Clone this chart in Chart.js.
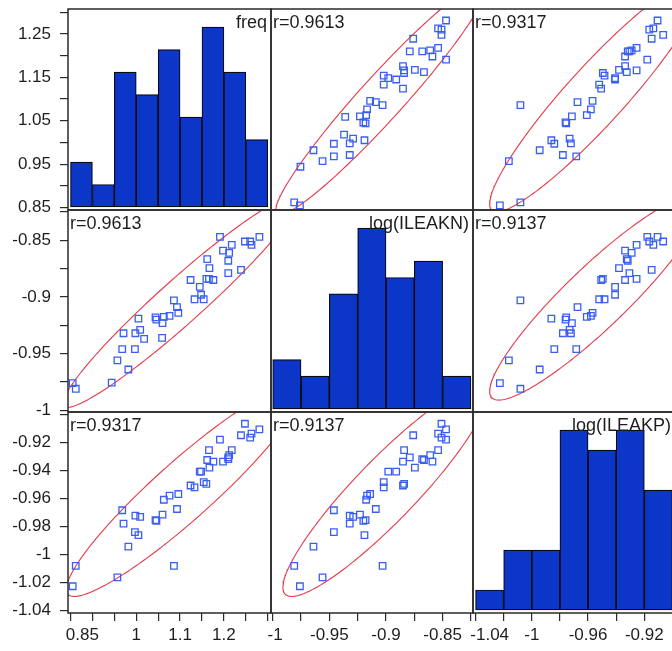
<!DOCTYPE html>
<html>
<head>
<meta charset="utf-8">
<script src="https://cdn.jsdelivr.net/npm/chart.js@4.4.1/dist/chart.umd.min.js"></script>
<style>
  html, body { margin: 0; padding: 0; background: #fff; overflow: hidden; }
  #matrix { position: relative; width: 672px; height: 651px; overflow: hidden; }
  #matrix canvas { position: absolute; }
</style>
</head>
<body>
<div id="matrix"></div>
<script>
// ---- measurements (one row per device; null = not measured) ----
const freq = [
  0.855, 0.862, 0.944, 0.982, 0.957, 0.968, 0.997, 0.971, 0.998, 1.009,
  1.018, 1.005, 1.059, 1.044, 1.046, 1.060, 1.063, 1.076, 1.086, 1.093,
  1.096, 1.133, 1.124, 1.145, 1.148, 1.154, 1.160, 1.166, 1.176, 1.162,
  1.167, 1.191, 1.198, 1.212, 1.218, 1.210, 1.210, 1.239, 1.248, 1.260,
  1.263, 1.281
];
const logIleakN = [
  -0.976, -0.981, -0.9755, -0.964, -0.956, -0.946, -0.946, -0.932, -0.932, -0.929,
  -0.937, -0.919, -0.936, -0.918, -0.920, -0.923, -0.9175, -0.9167, -0.903, -0.909,
  -0.914, -0.902, -0.885, -0.891, -0.898, -0.902, -0.884, -0.884, -0.885, -0.8665,
  -0.8745, -0.847, -0.859, -0.861, -0.854, -0.868, -0.879, -0.876, -0.851, -0.851,
  -0.854, -0.847
];
const logIleakP = [
  -1.0227, -1.0081, null, -0.9944, -1.0163, -0.9684, -0.984, -0.9779, -0.9722, -0.9731,
  null, -0.9861, null, -0.9755, -0.976, -0.9715, -0.9609, -0.958, -1.0081, -0.9675,
  -0.9568, -0.9521, -0.9507, -0.9408, -0.9408, -0.9483, -0.9495, -0.9255, -0.9337, -0.9325,
  -0.938, -0.9179, -0.9337, -0.929, -0.9255, -0.9318, -0.9306, -0.9148, -0.9066, -0.9165,
  -0.9136, -0.9106
];

// ---- pairwise correlations ----
const rFreqN = 0.9613;
const rFreqP = 0.9317;
const rNP = 0.9137;

// ---- histogram bins (left edges, bin width) and counts ----
const freqBinStarts = [0.85, 0.90, 0.95, 1.00, 1.05, 1.10, 1.15, 1.20, 1.25];
const freqBinWidth = 0.05;
const freqCounts = [2, 1, 6, 5, 7, 4, 8, 6, 3];
const ileakNBinStarts = [-1.000, -0.975, -0.950, -0.925, -0.900, -0.875, -0.850];
const ileakNBinWidth = 0.025;
const ileakNCounts = [3, 2, 7, 11, 8, 9, 2];
const ileakPBinStarts = [-1.04, -1.02, -1.00, -0.98, -0.96, -0.94, -0.92];
const ileakPBinWidth = 0.02;
const ileakPCounts = [1, 3, 3, 9, 8, 9, 6];

// ---- axis limits, ticks and tick labels ----
const freqRange = [0.8443, 1.3075];
const ileakNRange = [-1.0015, -0.8232];
const ileakPRange = [-1.0418, -0.8982];

const freqTicks = [0.85, 0.9, 0.95, 1.0, 1.05, 1.1, 1.15, 1.2, 1.25, 1.3];
const freqXLabels = ['0.85', '', '', '1', '', '1.1', '', '1.2', '', ''];
const freqYLabels = ['0.85', '', '0.95', '', '1.05', '', '1.15', '', '1.25', ''];
const ileakNTicks = [-1, -0.975, -0.95, -0.925, -0.9, -0.875, -0.85, -0.825];
const ileakNXLabels = ['-1', '', '-0.95', '', '-0.9', '', '-0.85', ''];
const ileakNYLabels = ['-1', '', '-0.95', '', '-0.9', '', '-0.85', ''];
const ileakPTicks = [-1.04, -1.02, -1, -0.98, -0.96, -0.94, -0.92, -0.9];
const ileakPXLabels = ['-1.04', '', '-1', '', '-0.96', '', '-0.92', ''];
const ileakPYLabels = ['-1.04', '-1.02', '-1', '-0.98', '-0.96', '-0.94', '-0.92', ''];

const varNames = ['freq', 'log(ILEAKN)', 'log(ILEAKP)'];

// ---- look ----
const FONT = "'Liberation Sans', Arial, sans-serif";
const TICK_SIZE = 17;
const LABEL_SIZE = 18;
const INK = '#1e1e1e';
const FRAME = '#2a2a2a';
const BAR_FILL = '#0b36c8';
const POINT_BLUE = '#3a5ff0';
const ELLIPSE_RED = '#e43b4b';

// panel grid (page pixels)
const colEdges = [68, 271, 473, 675];
const rowEdges = [9, 210, 412, 613];
const PAGE_H = 651;
const MARGIN = 40;

// ---- assemble per-variable tables from the arrays above ----
const variables = [
  { values: freq, range: freqRange, ticks: freqTicks, xLabels: freqXLabels, yLabels: freqYLabels,
    binStarts: freqBinStarts, binWidth: freqBinWidth, counts: freqCounts },
  { values: logIleakN, range: ileakNRange, ticks: ileakNTicks, xLabels: ileakNXLabels, yLabels: ileakNYLabels,
    binStarts: ileakNBinStarts, binWidth: ileakNBinWidth, counts: ileakNCounts },
  { values: logIleakP, range: ileakPRange, ticks: ileakPTicks, xLabels: ileakPXLabels, yLabels: ileakPYLabels,
    binStarts: ileakPBinStarts, binWidth: ileakPBinWidth, counts: ileakPCounts }
];
const corr = [
  [1, rFreqN, rFreqP],
  [rFreqN, 1, rNP],
  [rFreqP, rNP, 1]
];

// text measuring for the first x label, which sits flush with the panel's left edge
const measureCtx = document.createElement('canvas').getContext('2d');
measureCtx.font = `${TICK_SIZE}px ${FONT}`;
function flushFirstLabel(text, value, range, panelWidth) {
  const w = measureCtx.measureText(text).width;
  const sw = measureCtx.measureText(' ').width;
  const offset = (value - range[0]) / (range[1] - range[0]) * panelWidth;
  const shift = w / 2 - offset - 3;
  const n = Math.max(0, Math.round(2 * shift / sw));
  return ' '.repeat(n) + text;
}

// pairs with both values present
function pairsOf(xs, ys) {
  const out = [];
  xs.forEach((x, k) => { if (x != null && ys[k] != null) out.push({ x, y: ys[k] }); });
  return out;
}

// 95% bivariate normal density ellipse from the sample means, SDs and r
function densityEllipse(points, r) {
  const n = points.length;
  const mx = points.reduce((s, p) => s + p.x, 0) / n;
  const my = points.reduce((s, p) => s + p.y, 0) / n;
  const sx = Math.sqrt(points.reduce((s, p) => s + (p.x - mx) ** 2, 0) / (n - 1));
  const sy = Math.sqrt(points.reduce((s, p) => s + (p.y - my) ** 2, 0) / (n - 1));
  const c = Math.sqrt(-2 * Math.log(1 - 0.95));
  const q = Math.sqrt(1 - r * r);
  const out = [];
  for (let k = 0; k <= 240; k++) {
    const t = 2 * Math.PI * k / 240;
    out.push({ x: mx + c * sx * Math.cos(t), y: my + c * sy * (r * Math.cos(t) + q * Math.sin(t)) });
  }
  return out;
}

// panel caption: variable name (top right) or correlation (top left)
const cornerText = {
  id: 'cornerText',
  afterDatasetsDraw(chart, args, opts) {
    if (!opts.text) return;
    const { ctx, chartArea: a } = chart;
    ctx.save();
    ctx.font = `${LABEL_SIZE}px ${FONT}`;
    ctx.fillStyle = INK;
    ctx.textBaseline = 'alphabetic';
    if (opts.align === 'right') {
      ctx.textAlign = 'right';
      ctx.fillText(opts.text, a.right - 4, a.top + 19);
    } else {
      ctx.textAlign = 'left';
      ctx.fillText(opts.text, a.left + 2, a.top + 19);
    }
    ctx.restore();
  }
};

// panel frame
const panelFrame = {
  id: 'panelFrame',
  afterDraw(chart) {
    const { ctx, chartArea: a } = chart;
    ctx.save();
    ctx.strokeStyle = FRAME;
    ctx.lineWidth = 1.5;
    ctx.strokeRect(a.left, a.top, a.right - a.left, a.bottom - a.top);
    ctx.restore();
  }
};

function axisConfig(v, isX, show, panelWidth) {
  const labels = isX ? v.xLabels : v.yLabels;
  return {
    type: 'linear',
    position: isX ? 'bottom' : 'left',
    display: show,
    offset: false,
    min: v.range[0],
    max: v.range[1],
    afterBuildTicks: (scale) => { scale.ticks = v.ticks.map(t => ({ value: t })); },
    afterFit: (scale) => {
      if (!show) return;
      if (isX) scale.height = PAGE_H - rowEdges[3];
      else scale.width = colEdges[0];
    },
    grid: { display: true, offset: false, drawOnChartArea: false, drawTicks: true, tickLength: 8, color: FRAME, lineWidth: 1.2 },
    border: { display: false },
    ticks: {
      autoSkip: false,
      maxRotation: 0,
      minRotation: 0,
      padding: isX ? 4 : 9,
      color: INK,
      font: { family: FONT, size: TICK_SIZE },
      callback: (value, index) => {
        const s = labels[index] || '';
        if (isX && index === 0 && s) return flushFirstLabel(s, v.ticks[0], v.range, panelWidth);
        return s;
      }
    }
  };
}

const host = document.getElementById('matrix');

for (let i = 0; i < 3; i++) {
  for (let j = 0; j < 3; j++) {
    const xv = variables[j];
    const yv = variables[i];
    const panelW = colEdges[j + 1] - colEdges[j];

    const left = j === 0 ? 0 : colEdges[j] - MARGIN;
    const right = colEdges[j + 1] + MARGIN;
    const top = rowEdges[i] - MARGIN;
    const bottom = i === 2 ? PAGE_H : rowEdges[i + 1] + MARGIN;

    const canvas = document.createElement('canvas');
    canvas.width = right - left;
    canvas.height = bottom - top;
    canvas.style.left = left + 'px';
    canvas.style.top = top + 'px';
    canvas.style.width = (right - left) + 'px';
    canvas.style.height = (bottom - top) + 'px';
    host.appendChild(canvas);

    const scales = {
      x: axisConfig(xv, true, i === 2, panelW),
      y: axisConfig(yv, false, j === 0, panelW)
    };
    let datasets;
    let caption;

    if (i === j) {
      // histogram on a hidden count axis
      const maxCount = Math.max(...xv.counts);
      const span = maxCount / 0.895;
      scales.yCount = { type: 'linear', display: false, offset: false, min: -0.015 * span, max: 0.985 * span };
      datasets = [{
        type: 'bar',
        data: xv.binStarts.map((b, k) => ({ x: b + xv.binWidth / 2, y: xv.counts[k] })),
        xAxisID: 'x',
        yAxisID: 'yCount',
        backgroundColor: BAR_FILL,
        borderColor: '#0a0a14',
        borderWidth: 1.2,
        borderSkipped: false,
        barPercentage: 1,
        categoryPercentage: 1
      }];
      caption = { text: varNames[i], align: 'right' };
    } else {
      const pts = pairsOf(xv.values, yv.values);
      datasets = [
        {
          type: 'scatter',
          data: pts,
          xAxisID: 'x',
          yAxisID: 'y',
          pointStyle: 'rect',
          pointRadius: 4.6,
          pointBorderWidth: 1.3,
          pointBorderColor: POINT_BLUE,
          pointBackgroundColor: 'rgba(0,0,0,0)'
        },
        {
          type: 'line',
          data: densityEllipse(pts, corr[i][j]),
          xAxisID: 'x',
          yAxisID: 'y',
          borderColor: ELLIPSE_RED,
          borderWidth: 1.1,
          pointRadius: 0,
          fill: false,
          tension: 0
        }
      ];
      caption = { text: 'r=' + corr[i][j].toFixed(4), align: 'left' };
    }

    new Chart(canvas, {
      type: 'scatter',
      data: { datasets },
      options: {
        responsive: false,
        animation: false,
        devicePixelRatio: 1,
        layout: {
          autoPadding: false,
          padding: { left: j === 0 ? 0 : MARGIN, right: MARGIN, top: MARGIN, bottom: i === 2 ? 0 : MARGIN }
        },
        scales,
        plugins: {
          legend: { display: false },
          tooltip: { enabled: false },
          cornerText: caption
        }
      },
      plugins: [cornerText, panelFrame]
    });
  }
}
</script>
</body>
</html>
